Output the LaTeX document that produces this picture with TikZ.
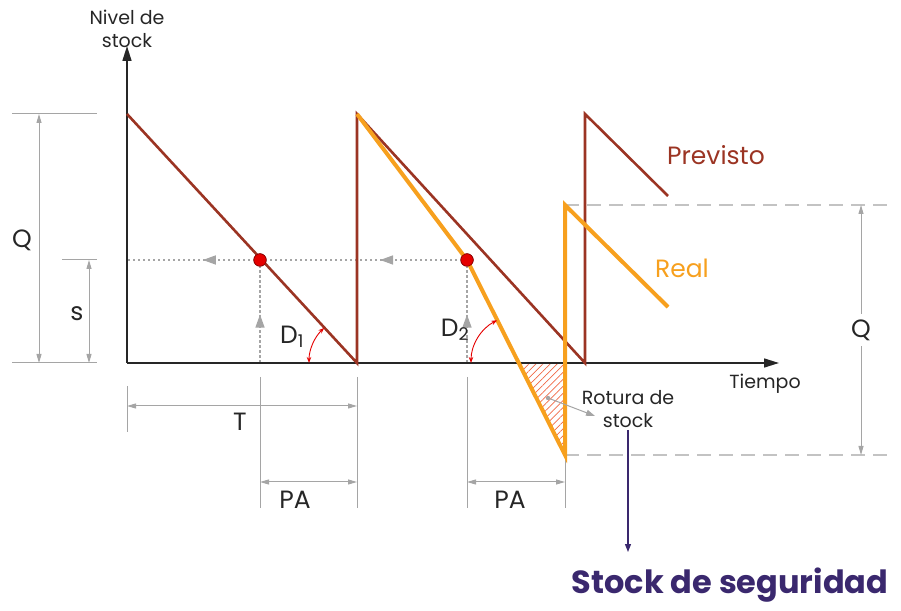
\documentclass[tikz,border=0pt]{standalone}
\usepackage{fontspec}
\setmainfont{Poppins}
\usetikzlibrary{arrows.meta,patterns.meta,decorations.markings,calc}
\definecolor{previsto}{RGB}{155,52,35}
\definecolor{real}{RGB}{247,160,30}
\definecolor{dimgray}{RGB}{165,165,165}
\definecolor{lightdash}{RGB}{195,195,195}
\definecolor{navyseg}{RGB}{58,40,110}
\definecolor{hatchred}{RGB}{240,105,70}
\newcommand{\smalltxt}{\fontsize{19}{23}\selectfont}
\newcommand{\medtxt}{\fontsize{25}{28}\selectfont}

\begin{document}
\begin{tikzpicture}[x=1pt,y=1pt,>=Stealth,
  dim/.style={dimgray,line width=1pt,{Triangle[length=9pt,width=5pt]}-{Triangle[length=9pt,width=5pt]}},
  guide/.style={dimgray,line width=1pt},
  dotline/.style={dimgray,line width=1.5pt,dash pattern=on 2.5pt off 2.5pt},
  midtip/.style={postaction={decorate},decoration={markings,
      mark=at position #1 with {\arrow{Triangle[length=13pt,width=9pt]}}}},
  reddot/.style={circle,fill=red!90!black,draw=red!50!black,line width=0.6pt,inner sep=0pt,minimum size=12.5pt},
  angarc/.style={red!90!black,line width=0.9pt,{Stealth[length=6pt,width=4.5pt]}-{Stealth[length=6pt,width=4.5pt]}},
  lbl/.style={text=black!85,inner sep=1pt,align=center,font=\medtxt},
  small lbl/.style={lbl,font=\smalltxt}]

  \useasboundingbox (0,0) rectangle (901,610);

  % puntos de las curvas
  \coordinate (o) at (127,247);
  \coordinate (p0) at (127,496);
  \coordinate (p1) at (357,247);
  \coordinate (p2) at (357,496);
  \coordinate (p3) at (585,247);
  \coordinate (p4) at (585,496);
  \coordinate (p5) at (668,414);
  \coordinate (r1) at (467,350);
  \coordinate (r2) at (565,155);
  \coordinate (r3) at (565,405);
  \coordinate (r4) at (668,303);
  \coordinate (z2) at (519,247);
  \coordinate (z3) at (565,247);

  % cotas de la izquierda
  \draw[guide] (12,496) -- (97,496);
  \draw[guide] (12,247) -- (97,247);
  \draw[guide] (62,350) -- (97,350);
  \draw[dim] (39,496) -- (39,247);
  \draw[dim] (89,350) -- (89,247);
  \node[lbl] (qleft) at (22,370) {Q};
  \node[lbl] (sleft) at (77,296) {s};

  % cotas de abajo
  \draw[guide] (127,224) -- (127,178);
  \draw[guide] (260,233) -- (260,102);
  \draw[guide] (357,233) -- (357,102);
  \draw[guide] (467,233) -- (467,102);
  \draw[guide] (r2) -- (565,102);
  \draw[dim] (127,204) -- (357,204);
  \draw[dim] (260,128) -- (357,128);
  \draw[dim] (467,128) -- (565,128);
  \node[lbl] (tlbl) at (240,188) {T};
  \node[lbl] (pa1) at (295,110) {PA};
  \node[lbl] (pa2) at (510,110) {PA};

  % stock de seguridad
  \draw[lightdash,line width=1.2pt,dash pattern=on 14pt off 8pt] (r3) -- (888,405);
  \draw[lightdash,line width=1.2pt,dash pattern=on 14pt off 8pt] (r2) -- (888,155);
  \draw[dim] (861,405) -- (861,155) node[midway,fill=white,lbl,inner ysep=6pt] (qright) {Q};

  % punto de pedido
  \node[reddot] (dot1) at (260,350) {};
  \node[reddot] (dot2) at (r1) {};
  \draw[dotline,midtip=0.42] (dot2.center) -- (dot1.center);
  \draw[dotline,midtip=0.43] (dot1.center) -- (127,350);
  \draw[dotline,midtip=0.47] (260,247) -- (dot1.center);
  \draw[dotline,midtip=0.47] (467,247) -- (dot2.center);

  % rotura
  \fill[pattern={Lines[angle=45,distance=5pt,line width=0.7pt]},pattern color=hatchred] (z2) -- (z3) -- (r2) -- cycle;

  % ejes
  \draw[black!85,line width=1.6pt,-{Triangle[length=15pt,width=9pt]}] (o) -- (779,247);
  \draw[black!85,line width=1.6pt,-{Triangle[length=15pt,width=9pt]}] (o) -- (127,564);
  \node[small lbl] (ylbl) at (127,581) {Nivel de\\stock};
  \node[small lbl] (xlbl) at (765,226) {Tiempo};

  % curvas
  \draw[previsto,line width=2.6pt] (p0) -- (p1) -- (p2) -- (p3) -- (p4) -- (p5);
  \draw[real,line width=4pt] (p2) -- (r1) -- (r2) -- (r3) -- (r4);
  \node[reddot] at (dot1) {};
  \node[reddot] at (dot2) {};
  \node[text=previsto,inner sep=1pt,font=\medtxt] (prev) at (716,455) {Previsto};
  \node[text=real,inner sep=1pt,font=\medtxt] (reallbl) at (682,342) {Real};

  % angulos
  \draw[angarc] ($(p1)+(180:48)$) arc[start angle=180,end angle=133,radius=48];
  \draw[angarc] ($(z2)+(180:48)$) arc[start angle=180,end angle=117,radius=48];
  \node[lbl] (d1) at (292,273) {D\textsubscript{1}};
  \node[lbl] (d2) at (455,280) {D\textsubscript{2}};

  \coordinate (hz) at (548,212);
  \fill[dimgray] (hz) circle (2.2);
  \node[small lbl] (rotura) at (628,201) {Rotura de\\stock};
  \draw[dimgray,line width=1pt,-{Triangle[length=9pt,width=6pt]}] (hz) -- (595,194);

  \node[text=navyseg,inner sep=1pt,font=\fontsize{32}{36}\selectfont\bfseries] (ss) at (730,25) {Stock de seguridad};
  \draw[navyseg,line width=1.2pt,-{Triangle[length=8pt,width=6pt]}] (628,180) -- (628,58);
\end{tikzpicture}
\end{document}
